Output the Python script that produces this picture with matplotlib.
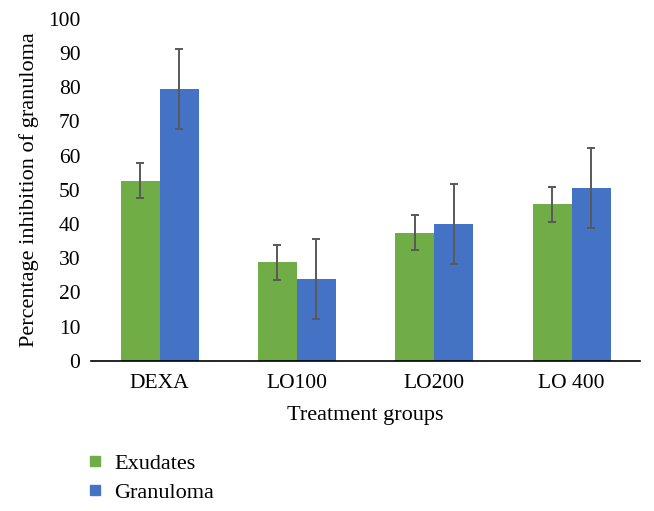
import matplotlib
matplotlib.use("Agg")
import matplotlib.pyplot as plt
from matplotlib.lines import Line2D
import numpy as np

categories = ["DEXA", "LO100", "LO200", "LO 400"]
exudates = [52.7, 28.8, 37.5, 45.8]
exudates_err = [5.1, 5.1, 5.1, 5.1]
granuloma = [79.4, 23.8, 40.1, 50.5]
granuloma_err = [11.7, 11.7, 11.7, 11.7]
yticks = list(range(0, 101, 10))

plt.rcParams['font.family'] = ['Liberation Serif', 'DejaVu Serif']

fig = plt.figure(figsize=(6.54, 5.11), dpi=100)
ax = fig.add_axes([0.139, 0.294, 0.840, 0.669])

green = "#70AD47"
blue = "#4472C4"
errc = "#595959"
x = np.arange(len(categories))
w = 0.284
ekw = dict(ecolor=errc, elinewidth=1.4, capsize=2.8, capthick=1.4)
ax.bar(x - w/2, exudates, w, color=green, yerr=exudates_err, error_kw=ekw)
ax.bar(x + w/2, granuloma, w, color=blue, yerr=granuloma_err, error_kw=ekw)

ax.set_xlim(-0.5, len(categories) - 0.5)
ax.set_ylim(0, 100)
ax.set_yticks(yticks)
ax.set_xticks(x)
ax.set_xticklabels(categories)
ax.tick_params(axis='y', length=0, labelsize=15.5, pad=7.5)
ax.tick_params(axis='x', length=0, labelsize=15.5, pad=9.5)
for s in ['top', 'right', 'left']:
    ax.spines[s].set_visible(False)
ax.spines['bottom'].set_color('black')
ax.spines['bottom'].set_linewidth(1.2)

ax.set_xlabel("Treatment groups", fontsize=16, labelpad=9.5)
ax.set_ylabel("Percentage inhibition of granuloma", fontsize=16, labelpad=6.5)

handles = [Line2D([], [], marker='s', linestyle='none', markersize=6.5, color=green),
           Line2D([], [], marker='s', linestyle='none', markersize=6.5, color=blue)]
fig.legend(handles, ["Exudates", "Granuloma"], loc='upper left',
           bbox_to_anchor=(0.135, 0.1135), frameon=False, fontsize=16,
           borderpad=0, borderaxespad=0, handletextpad=0.56,
           labelspacing=0.38, handlelength=0.6)

fig.savefig("out.png", dpi=100)
